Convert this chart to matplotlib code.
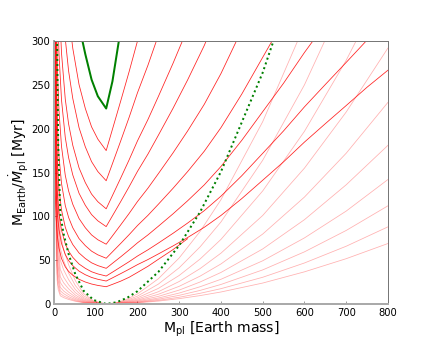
import numpy as np
import matplotlib
matplotlib.use('Agg')
import matplotlib.pyplot as plt

nan = np.nan

# planet mass grid [Earth mass] for the V-shaped (solid) curves
bright_mass = [0.3, 0.8, 1.5, 3, 5, 8, 12, 18, 27, 35, 45, 60, 75, 90, 105,
               125, 140, 160, 180, 200, 225, 250, 285, 320, 360, 400, 450,
               500, 550, 600, 650, 700, 750, 800]

# growth time; each curve starts at bright_first[i]
green_first = 45
green_time = [370, 318, 285, 256, 237, 223, 254, 314]

bright_first = [27, 18, 12, 8, 5, 3, 1.5, 0.8, 0.3, 0.3]
bright_time = [
    [376.6, 330.8, 291.7, 250.3, 223.1, 202.1, 188.1, 175,
     199.3, 231.9, 265.1, 300, 339],
    [370.5, 302.6, 265.7, 234.4, 201.1, 179.3, 162.4, 151.1, 140.6,
     160.1, 186.3, 213.0, 241.0, 272.3, 306.5],
    [350.5, 286.2, 233.7, 205.3, 181.0, 155.3, 138.5, 125.4, 116.7, 108.6,
     123.7, 143.9, 164.5, 186.1, 210.4, 236.7, 274.4, 314.2],
    [349.0, 284.9, 232.7, 190.0, 166.9, 147.2, 126.3, 112.6, 102.0, 94.9, 88.3,
     100.6, 117.0, 133.8, 151.3, 171.0, 192.5, 223.1, 255.5, 294.9, 340.4],
    [341, 269.6, 220.1, 179.7, 146.8, 128.9, 113.7, 97.5, 87.0, 78.8, 73.3, 68.2,
     77.7, 90.4, 103.3, 116.9, 132.1, 148.7, 172.3, 197.3, 227.8, 262.9, 313.0],
    [337, 261, 206.3, 168.4, 137.5, 112.3, 98.7, 87.0, 74.6, 66.6, 60.3, 56.1, 52.2,
     59.5, 69.2, 79.1, 89.5, 101.1, 113.8, 131.9, 151.0, 174.3, 201.2, 239.6,
     281.4, 323.1],
    [371.6, 262.7, 203.5, 160.9, 131.3, 107.2, 87.6, 76.9, 67.8, 58.2, 51.9, 47.0,
     43.8, 40.7,
     46.4, 53.9, 61.7, 69.8, 78.8, 88.7, 102.8, 117.7, 135.9, 156.9, 186.8, 219.4,
     251.9, 286.9, 319.5],
    [398.8, 291.2, 205.9, 159.5, 126.1, 102.9, 84.1, 68.6, 60.3, 53.2, 45.6, 40.7,
     36.8, 34.3, 31.9,
     36.3, 42.3, 48.3, 54.7, 61.8, 69.5, 80.6, 92.3, 106.5, 123.0, 146.4, 171.9,
     197.5, 224.9, 250.4, 275.6, 301.1, 324.7],
    [534.5, 327.5, 239.2, 169.1, 131, 103.6, 84.5, 69.0, 56.4, 49.5, 43.7, 37.5,
     33.4, 30.3, 28.2, 26.2,
     29.8, 34.7, 39.7, 44.9, 50.7, 57.1, 66.2, 75.8, 87.5, 101.0, 120.3, 141.2,
     162.2, 184.7, 205.7, 226.4, 247.3, 266.7],
    [401.9, 246.3, 179.9, 127.2, 98.5, 77.9, 63.6, 51.9, 42.4, 37.2, 32.8, 28.2,
     25.1, 22.8, 21.2, 19.7,
     22.4, 26.1, 30.5, 36.0, 43.0, 51.0, 62.0, 74.5],
]

# mass grid for the faint (U-shaped) curves
faint_mass = [3.8, 4, 4.5, 5.5, 7.5, 10, 15, 23, 35, 51, 71, 95, 125,
              150, 175, 200, 250, 300, 350, 400, 500, 600, 700, 800]
faint_time = [
    [485, 254, 116, 55.6, 27.3, 16.6, 9.4, 7.3, 5.2, 3.1, 1.4, 0.4, 0,
     0.2, 0.6, 1.3, 3.3, 6.1, 9.6, 13.7, 23.9, 36.7, 51.7, 69],
    [616, 324, 148, 70.9, 34.8, 21.2, 11.9, 9.2, 6.6, 3.9, 1.7, 0.5, 0,
     0.2, 0.8, 1.7, 4.2, 7.7, 12.2, 17.5, 30.5, 46.8, 65.9, 88],
    [784, 412, 188, 90.3, 44.2, 27.0, 15.2, 11.8, 8.4, 5.0, 2.2, 0.7, 0,
     0.3, 1.0, 2.1, 5.4, 9.9, 15.5, 22.3, 38.9, 59.5, 83.9, 112],
    [994, 523, 239, 114, 56.1, 34.2, 19.2, 14.9, 10.7, 6.4, 2.8, 0.8, 0,
     0.4, 1.3, 2.7, 6.8, 12.5, 19.7, 28.2, 49.3, 75.4, 106, 142],
    [1267, 666, 304, 146, 71.5, 43.6, 24.5, 19.0, 13.6, 8.1, 3.6, 1.1, 0,
     0.5, 1.7, 3.5, 8.7, 15.9, 25.1, 36.0, 62.8, 96.2, 136, 181],
    [1610, 846, 386, 185, 90.9, 55.4, 31.2, 24.2, 17.3, 10.3, 4.5, 1.4, 0,
     0.6, 2.1, 4.4, 11.1, 20.2, 31.8, 45.7, 79.8, 122, 172, 230],
    [2044, 1075, 491, 235, 115, 70.4, 39.6, 30.7, 21.9, 13.1, 5.8, 1.7, 0,
     0.8, 2.7, 5.6, 14.0, 25.7, 40.4, 58.0, 101, 155, 219, 292],
    [2597, 1365, 623, 299, 147, 89.4, 50.3, 39.0, 27.8, 16.6, 7.3, 2.2, 0,
     1.0, 3.4, 7.1, 17.8, 32.6, 51.3, 73.7, 129, 197, 278, 371],
    [3297, 1733, 791, 380, 186, 114, 63.8, 49.5, 35.3, 21.1, 9.3, 2.8, 0,
     1.3, 4.4, 9.0, 22.7, 41.4, 65.2, 93.6, 164, 250, 353, nan],
    [4186, 2200, 1005, 482, 236, 144, 81.0, 62.8, 44.9, 26.7, 11.8, 3.5, 0,
     1.6, 5.5, 11.5, 28.8, 52.6, 82.8, 119, 208, 318, nan, nan],
]
# highlighted member of the faint family
green_dot_time = [5320, 2797, 1277, 613, 300, 183, 103, 80, 57, 34, 15, 4.5, 0,
                  2.0, 7.0, 14.6, 36.6, 66.9, 105, 151, 264, 404, nan, nan]


def grid_slice(first, values):
    i = bright_mass.index(first)
    return bright_mass[i:i + len(values)]


fig = plt.figure(figsize=(6.0, 343 / 72.0), dpi=72)
ax = fig.add_axes([0.125, 0.1137, 0.773, 0.7667])

for yy in faint_time:
    ax.plot(faint_mass, yy, color='red', alpha=0.3, lw=0.8)
for first, yy in zip(bright_first, bright_time):
    ax.plot(grid_slice(first, yy), yy, color='red', alpha=0.85, lw=0.8)
ax.plot(grid_slice(green_first, green_time), green_time, color='green', lw=2)
ax.plot(faint_mass, green_dot_time, color='green', lw=2, ls=(0, (1, 1.5)))

ax.set_xlim(0, 800)
ax.set_ylim(0, 300)
ax.set_xticks([0, 100, 200, 300, 400, 500, 600, 700, 800])
ax.set_yticks([0, 50, 100, 150, 200, 250, 300])
ax.tick_params(labelsize=10, direction='in', length=3, color='#888888')
for side in ['top', 'right']:
    ax.spines[side].set_color('#777777')
    ax.spines[side].set_linewidth(1)
for side in ['left', 'bottom']:
    ax.spines[side].set_color('#aaaaaa')
    ax.spines[side].set_linewidth(2)

ax.set_xlabel(r'M$_{\rm pl}$ [Earth mass]', fontsize=14, labelpad=2)
ax.set_ylabel(r'M$_{\rm Earth}$/$\dot{M}_{\rm pl}$ [Myr]', fontsize=14, labelpad=0)

fig.savefig('out.png', dpi=72)
